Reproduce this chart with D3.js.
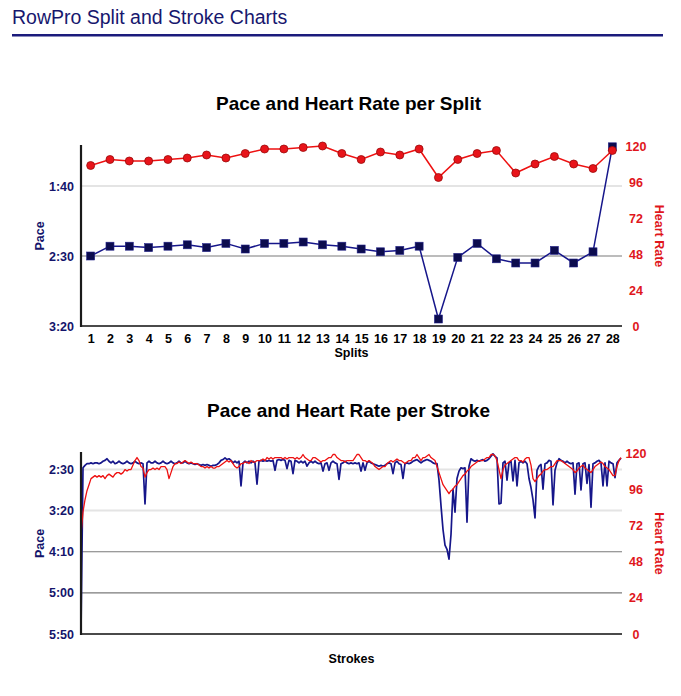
<!DOCTYPE html>
<html>
<head>
<meta charset="utf-8">
<script src="https://cdn.jsdelivr.net/npm/d3@7"></script>
<style>
  body { margin: 0; background: #fff; }
  svg { display: block; font-family: "Liberation Sans", Arial, Helvetica, sans-serif; }
</style>
</head>
<body>
<svg id="chart" width="681" height="696"></svg>
<script>
// ---------- DATA ----------
const pageTitle = "RowPro Split and Stroke Charts";
const splitTitle = "Pace and Heart Rate per Split";
const strokeTitle = "Pace and Heart Rate per Stroke";

const splits = [1,2,3,4,5,6,7,8,9,10,11,12,13,14,15,16,17,18,19,20,21,22,23,24,25,26,27,28];
// pace in seconds per 500m
const splitPace = [150,143,143,144,143,142,144,141,145,141,141,140,142,143,145,147,146,143,195,151,141,152,155,155,146,155,147,72];
const splitHR = [107,111,110,110,111,112,114,112,115,118,118,119,120,115,111,116,114,118,99,111,115,117,102,108,113,108,105,117];

const splitPaceTicks = [200,150,100];
const hrTicks = [0,24,48,72,96,120];
const strokePaceTicks = [350,300,250,200,150];

// per-stroke pace (seconds)
const strokePace = [
348,148,145,143,143,142,143,142,142,143,
142,140,139,137,140,142,140,143,142,140,
142,143,142,140,142,143,142,140,142,143,
142,143,192,142,140,142,142,140,142,143,
142,140,142,143,142,140,142,143,142,140,
142,142,140,142,143,142,143,144,143,144,
145,144,145,144,145,146,145,145,144,142,
139,138,136,138,137,139,142,140,142,140,
170,142,140,142,140,142,140,142,168,140,
139,140,139,140,139,140,139,151,139,138,
139,138,139,149,139,140,155,139,140,142,
140,142,140,146,142,140,142,140,142,143,
142,152,143,142,151,142,140,142,143,162,
143,142,140,142,143,142,143,142,143,142,
152,142,151,142,140,142,143,144,145,146,
145,146,145,143,142,143,155,142,140,143,
144,161,143,142,143,142,140,139,138,140,
142,140,139,138,139,140,142,143,143,163,
194,223,242,247,259,229,174,202,161,152,
148,149,148,214,146,137,139,140,139,140,
139,138,140,139,137,134,131,134,136,192,
191,142,140,163,142,140,164,139,170,142,
140,142,140,143,161,172,187,209,151,146,
144,174,143,142,139,140,193,151,142,137,
139,140,142,140,142,143,142,180,143,142,
175,143,142,167,144,196,143,142,140,139,
142,170,142,170,140,142,143,160,142,139,
136];

// per-stroke heart rate (bpm)
const strokeHR = [
66,81,89,95,99,103,104,105,104,105,
104,105,103,105,106,105,104,106,107,107,
106,107,109,108,109,109,112,115,117,115,
111,110,104,107,109,109,110,109,110,109,
111,111,111,109,103,107,111,113,113,114,
113,114,115,114,113,114,113,113,113,112,
111,111,110,111,110,111,110,110,111,111,
112,113,114,115,114,115,113,111,110,111,
113,113,114,114,113,115,114,114,115,115,
115,116,115,117,116,117,116,117,117,117,
117,116,117,116,117,117,117,116,117,116,
117,119,117,116,115,115,117,117,116,115,
114,115,115,116,117,117,119,119,117,116,
115,115,114,115,115,115,115,117,119,119,
117,115,115,114,115,114,113,111,110,109,
110,111,111,113,114,115,114,115,116,115,
115,114,113,114,115,115,117,117,119,117,
115,117,117,118,119,117,116,115,111,107,
103,99,97,95,93,95,96,98,99,101,
103,105,106,108,109,111,112,113,114,115,
115,115,116,117,117,119,119,118,115,109,
103,109,112,113,114,115,116,117,117,115,
115,114,116,117,117,112,103,101,103,105,
106,108,109,109,110,111,111,113,115,115,
115,114,113,112,111,110,109,107,108,110,
111,112,110,109,108,107,109,111,112,113,
114,113,111,110,109,107,105,105,111,115,
117];

// ---------- DRAW ----------
const NAVY = "#14146b", PACE_LINE = "#16168a", RED = "#ee1111", HR_TEXT = "#e0161c";
const svg = d3.select("#chart");
const fmt = s => Math.floor(s / 60) + ":" + String(Math.round(s % 60)).padStart(2, "0");

// header
svg.append("text").attr("x", 12).attr("y", 24).attr("font-size", 19.5)
  .attr("fill", "#17176e").text(pageTitle);
svg.append("rect").attr("x", 12).attr("y", 34).attr("width", 651).attr("height", 2.5)
  .attr("fill", "#1b1b7c");

function frame(g, cfg) {
  const { x0, x1, y0, y1, pace, hr, paceTicks, title, titleY, xLabel, xLabelY, grid } = cfg;
  svg.append("text").attr("x", (x0 + x1) / 2 - 3).attr("y", titleY).attr("text-anchor", "middle")
    .attr("font-size", 19).attr("font-weight", "bold").attr("fill", "#000").text(title);
  grid.forEach(gd => {
    g.append("line").attr("x1", x0).attr("x2", x1).attr("y1", pace(gd.v)).attr("y2", pace(gd.v))
      .attr("stroke", gd.dark ? "#7a7a7a" : "#e4e4e4").attr("stroke-width", gd.dark ? 1.2 : 2);
  });
  const la = g.append("g").attr("transform", `translate(${x0},0)`)
    .call(d3.axisLeft(pace).tickValues(paceTicks).tickFormat(fmt).tickSize(0).tickPadding(7));
  la.select(".domain").remove();
  la.selectAll("text").attr("fill", NAVY).attr("font-size", 12.5).attr("font-weight", "bold")
    .attr("font-family", "Liberation Sans, Arial, sans-serif");
  const ra = g.append("g").attr("transform", `translate(${x1},0)`)
    .call(d3.axisRight(hr).tickValues(hrTicks).tickSize(0).tickPadding(14));
  ra.select(".domain").remove();
  ra.selectAll("text").attr("fill", HR_TEXT).attr("font-size", 12.5).attr("font-weight", "bold")
    .attr("text-anchor", "middle").attr("font-family", "Liberation Sans, Arial, sans-serif");
  const yc = (y0 + y1) / 2;
  svg.append("text").attr("transform", `translate(44,${yc}) rotate(-90)`).attr("text-anchor", "middle")
    .attr("font-size", 12.5).attr("font-weight", "bold").attr("fill", NAVY).text("Pace");
  svg.append("text").attr("transform", `translate(655,${yc}) rotate(90)`).attr("text-anchor", "middle")
    .attr("font-size", 12.5).attr("font-weight", "bold").attr("fill", HR_TEXT).text("Heart Rate");
  svg.append("text").attr("x", (x0 + x1) / 2).attr("y", xLabelY).attr("text-anchor", "middle")
    .attr("font-size", 12.5).attr("font-weight", "bold").attr("fill", "#000").text(xLabel);
}

function axesLines(g, x0, x1, y0, y1) {
  g.append("line").attr("x1", x0 - 1).attr("x2", x1).attr("y1", y1).attr("y2", y1)
    .attr("stroke", "#4a4a4a").attr("stroke-width", 2.2);
  g.append("line").attr("x1", x0).attr("x2", x0).attr("y1", y0 - 1).attr("y2", y1 + 1)
    .attr("stroke", "#1a1a1a").attr("stroke-width", 2.2);
}

// ----- Chart 1: per split -----
{
  const x0 = 81, x1 = 622, y0 = 146, y1 = 326;
  const x = d3.scalePoint().domain(splits).range([x0, x1]).padding(0.5);
  const pace = d3.scaleLinear().domain([200, 200 - (y1 - y0) / 1.4]).range([y1, y0]);
  const hr = d3.scaleLinear().domain([0, 120]).range([y1, y0]);
  const g = svg.append("g");
  frame(g, { x0, x1, y0, y1, pace, hr, paceTicks: splitPaceTicks, title: splitTitle, titleY: 110,
    xLabel: "Splits", xLabelY: 357, grid: [{ v: 100, dark: false }, { v: 150, dark: true }] });

  const xa = g.append("g").attr("transform", `translate(0,${y1})`)
    .call(d3.axisBottom(x).tickSize(0).tickPadding(8));
  xa.select(".domain").remove();
  xa.selectAll("text").attr("fill", "#000").attr("font-size", 12.5).attr("font-weight", "bold")
    .attr("font-family", "Liberation Sans, Arial, sans-serif");

  axesLines(g, x0, x1, y0, y1);

  const pl = d3.line().x((d, i) => x(splits[i])).y(d => pace(d));
  g.append("path").datum(splitPace).attr("d", pl).attr("fill", "none")
    .attr("stroke", PACE_LINE).attr("stroke-width", 1.5);
  g.selectAll("rect.pm").data(splitPace).enter().append("rect").attr("class", "pm")
    .attr("x", (d, i) => x(splits[i]) - 4).attr("y", d => pace(d) - 4)
    .attr("width", 8).attr("height", 8).attr("fill", "#0c0c4e").attr("stroke", "#22228a").attr("stroke-width", 0.6);

  const hl = d3.line().x((d, i) => x(splits[i])).y(d => hr(d));
  g.append("path").datum(splitHR).attr("d", hl).attr("fill", "none")
    .attr("stroke", RED).attr("stroke-width", 1.5);
  g.selectAll("circle.hm").data(splitHR).enter().append("circle").attr("class", "hm")
    .attr("cx", (d, i) => x(splits[i])).attr("cy", d => hr(d)).attr("r", 4)
    .attr("fill", "#e8141a").attr("stroke", "#9a0a0a").attr("stroke-width", 0.8);
}

// ----- Chart 2: per stroke -----
{
  const x0 = 81, x1 = 622, y0 = 453, y1 = 634;
  const x = d3.scaleLinear().domain([0, strokePace.length - 1]).range([x0, 621]);
  const pace = d3.scaleLinear().domain([350, 130]).range([y1, y0]);
  const hr = d3.scaleLinear().domain([0, 120]).range([y1, y0]);
  const g = svg.append("g");
  frame(g, { x0, x1, y0, y1, pace, hr, paceTicks: strokePaceTicks, title: strokeTitle, titleY: 417,
    xLabel: "Strokes", xLabelY: 663,
    grid: [{ v: 150, dark: false }, { v: 200, dark: false }, { v: 250, dark: true }, { v: 300, dark: true }] });

  const pl = d3.line().x((d, i) => x(i)).y(d => pace(d));
  g.append("path").datum(strokePace).attr("d", pl).attr("fill", "none")
    .attr("stroke", PACE_LINE).attr("stroke-width", 1.7).attr("stroke-linejoin", "round");
  const hl = d3.line().x((d, i) => x(i)).y(d => hr(d));
  g.append("path").datum(strokeHR).attr("d", hl).attr("fill", "none")
    .attr("stroke", RED).attr("stroke-width", 1.3).attr("stroke-linejoin", "round");

  axesLines(g, x0, x1, y0, y1);
}
</script>
</body>
</html>
